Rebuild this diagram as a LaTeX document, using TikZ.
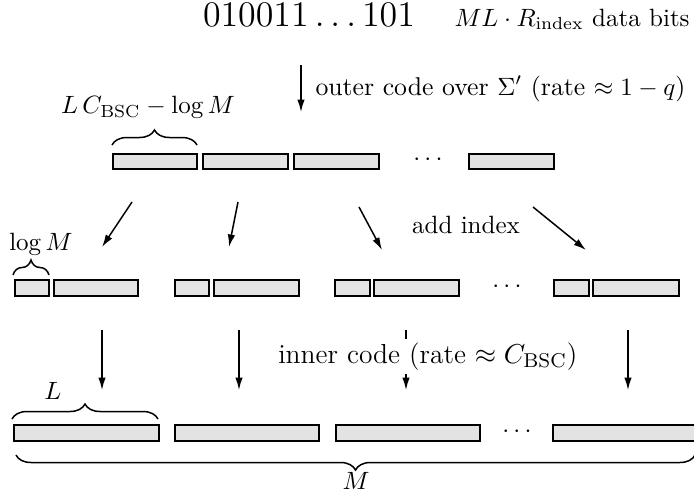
\documentclass[tikz,border=0pt]{standalone}
\usetikzlibrary{decorations.pathreplacing,arrows.meta}
\newcommand\mybox[5]{\node[blk, minimum width={(#3-#2-2)*0.4pt}, minimum height={(#5-#4-2)*0.4pt}] (#1) at (#2+1,#4+1) {};}
\begin{document}
\begin{tikzpicture}[x=0.4pt,y=-0.4pt,
  blk/.style={draw=black, fill=black!11, line width=0.8pt, inner sep=0pt, anchor=north west},
  arr/.style={-{Latex[length=5pt,width=3pt]}, line width=0.6pt},
  brc/.style={decorate, decoration={brace, amplitude=6pt}, line width=0.6pt},
  lbl/.style={inner sep=0pt}]
\useasboundingbox (0,0) rectangle (694,502);
% top text
\node[anchor=base, lbl] (bits) at (309,26) {\fontsize{13.4}{16}\selectfont $010011\ldots101$};
\node[anchor=base west, lbl] (nbits) at (454,26) {$ML\cdot R_{\mathrm{index}}$ data bits};
% outer arrow
\coordinate (o1) at (301,65); \coordinate (o2) at (301,112);
\draw[arr] (o1) -- (o2);
\node[anchor=base west, lbl] (outer) at (315,95) {\fontsize{10.3}{12}\selectfont outer code over $\Sigma'$ (rate $\approx 1-q$)};
% row 1
\mybox{t1}{111}{197}{152}{169}
\mybox{t2}{201}{288}{152}{169}
\mybox{t3}{292}{379}{152}{169}
\mybox{t4}{467}{554}{152}{169}
\node[lbl] (d1) at (428,160) {$\cdots$};
\coordinate (bt1a) at (112,145); \coordinate (bt1b) at (197,145);
\draw[brc] (bt1a) -- (bt1b);
\node[lbl] (lab1) at (148,107) {$L\,C_{\mathrm{BSC}}-\log M$};
% arrows row1 -> row2
\coordinate (a1s) at (132,202); \coordinate (a1e) at (102,247);
\coordinate (a2s) at (238,202); \coordinate (a2e) at (229,247);
\coordinate (a3s) at (359,207); \coordinate (a3e) at (382,250);
\coordinate (a4s) at (533,207); \coordinate (a4e) at (586,250);
\draw[arr] (a1s) -- (a1e);
\draw[arr] (a2s) -- (a2e);
\draw[arr] (a3s) -- (a3e);
\draw[arr] (a4s) -- (a4e);
\node[lbl] (addidx) at (466,225) {add index};
% row 2
\mybox{s1}{13}{49}{278}{296}
\mybox{l1}{52}{138}{278}{296}
\mybox{s2}{173}{209}{278}{296}
\mybox{l2}{212}{299}{278}{296}
\mybox{s3}{333}{370}{278}{296}
\mybox{l3}{372}{459}{278}{296}
\mybox{s4}{552}{589}{278}{296}
\mybox{l4}{591}{679}{278}{296}
\node[lbl] (d2) at (507,287) {$\cdots$};
\coordinate (bs1a) at (13,275); \coordinate (bs1b) at (49,275);
\draw[brc] (bs1a) -- (bs1b);
\node[lbl] (lab2) at (41,244) {$\log M$};
% arrows row2 -> row3
\coordinate (c1s) at (102,330); \coordinate (c1e) at (102,390);
\coordinate (c2s) at (239,330); \coordinate (c2e) at (239,390);
\coordinate (c3s) at (406,330); \coordinate (c3e) at (406,390);
\coordinate (c4s) at (628,330); \coordinate (c4e) at (628,390);
\draw[arr] (c1s) -- (c1e);
\draw[arr] (c2s) -- (c2e);
\draw[arr] (c3s) -- (c3e);
\draw[arr] (c4s) -- (c4e);
\node[anchor=base west, fill=white, inner sep=1.5pt] (inner) at (274,363) {\fontsize{11}{13}\selectfont inner code (rate $\approx C_{\mathrm{BSC}}$)};
% row 3
\mybox{b1}{12}{159}{423}{441}
\mybox{b2}{173}{319}{423}{441}
\mybox{b3}{334}{480}{423}{441}
\mybox{b4}{551}{702}{423}{441}
\node[lbl] (d3) at (517,432) {$\cdots$};
\coordinate (bl1a) at (12,419); \coordinate (bl1b) at (158,419);
\draw[brc] (bl1a) -- (bl1b);
\node[lbl] (lab3) at (53,391) {$L$};
\coordinate (bm1a) at (695,455); \coordinate (bm1b) at (16,455);
\draw[brc] (bm1a) -- (bm1b);
\node[lbl] (lab4) at (356,481) {$M$};
\end{tikzpicture}
\end{document}
